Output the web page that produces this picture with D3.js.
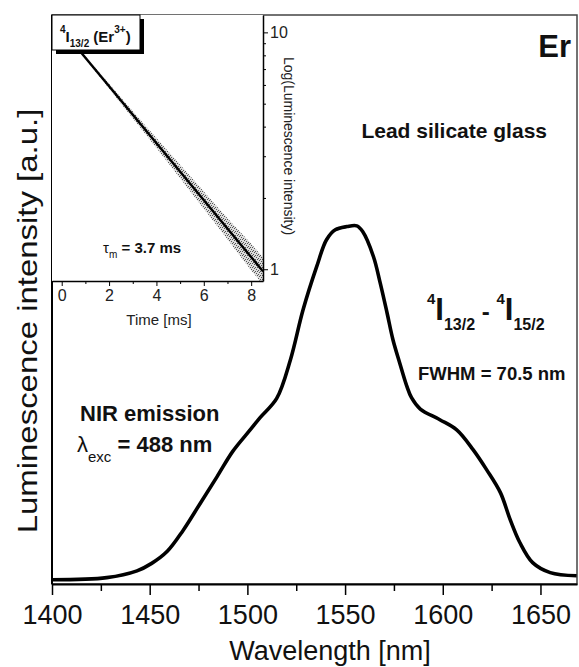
<!DOCTYPE html>
<html>
<head>
<meta charset="utf-8">
<script src="https://cdn.jsdelivr.net/npm/d3@7"></script>
<style>
  body { margin: 0; background: #fff; }
  svg { font-family: "Liberation Sans", Arial, sans-serif; }
</style>
</head>
<body>
<svg class="er_emission" width="579" height="667"></svg>
<script>
// NIR emission spectrum (a.u.)
var wavelength = [1400, 1428, 1443.5, 1451, 1459, 1467, 1476, 1484.5, 1492.5, 1501.5,
                  1506.5, 1515, 1522, 1528.5, 1535.5, 1540.5, 1545, 1551, 1556, 1559,
                  1564.5, 1568, 1571.5, 1574.5, 1578, 1581.5, 1584, 1588.5, 1598.5, 1607,
                  1615.5, 1622.5, 1629.5, 1634.5, 1639.5, 1646, 1655, 1668.5];
var intensity = [0.012, 0.018, 0.037, 0.058, 0.092, 0.150, 0.228, 0.302, 0.373, 0.434,
                 0.468, 0.522, 0.630, 0.771, 0.893, 0.968, 0.996, 1.005, 1.007, 0.991,
                 0.921, 0.846, 0.762, 0.687, 0.621, 0.558, 0.524, 0.492, 0.462, 0.434,
                 0.378, 0.321, 0.257, 0.181, 0.116, 0.060, 0.032, 0.023];
var xTicks = [1400, 1450, 1500, 1550, 1600, 1650];
var xMinorTicks = [1425, 1475, 1525, 1575, 1625];

// inset: decay of 4I13/2
var decayTime = [0, 8.5];
var decayFit = [10.3, 0.98];
var scatterTime = [0.9, 2, 3, 4, 5, 6, 7, 8, 8.5];
var scatterLow = [7.95, 5.80, 4.34, 3.25, 2.42, 1.80, 1.34, 0.99, 0.86];
var scatterHigh = [8.15, 6.07, 4.65, 3.58, 2.76, 2.13, 1.64, 1.28, 1.12];
var insetTimeTicks = [0, 2, 4, 6, 8];
var insetTimeMinor = [1, 3, 5, 7];
var insetLogTicks = [1, 10];
var insetLogMinor = [2, 3, 4, 5, 6, 7, 8, 9];

var svg = d3.select("svg.er_emission"),
    margin = {top: 15, right: 2, bottom: 83, left: 52},
    width = +svg.attr("width") - margin.left - margin.right,
    height = +svg.attr("height") - margin.top - margin.bottom,
    g = svg.append("g").attr("transform", "translate(" + margin.left + "," + margin.top + ")");

var x = d3.scaleLinear().domain([1400, 1668.7]).range([0, width]);
var y = d3.scaleLinear().domain([0, 1.6]).range([height, 0]);

// speckle texture for the noisy decay points
var pat = svg.append("defs").append("pattern")
    .attr("id", "speckle").attr("patternUnits", "userSpaceOnUse")
    .attr("width", 5).attr("height", 4);
pat.append("rect").attr("width", 5).attr("height", 4).attr("fill", "#dcdcdc");
[[0, 0], [2, 1], [4, 2], [1, 3], [3, 0]].forEach(function (p) {
  pat.append("rect").attr("x", p[0]).attr("y", p[1]).attr("width", 1).attr("height", 1).attr("fill", "#555");
});

// frame
g.append("rect")
    .attr("width", width).attr("height", height)
    .attr("fill", "none").attr("stroke", "#444").attr("stroke-width", 1.5);

// spectrum
var line = d3.line()
    .x(function (d, i) { return x(wavelength[i]); })
    .y(function (d) { return y(d); })
    .curve(d3.curveCatmullRom.alpha(0.5));

g.append("path")
    .datum(intensity)
    .attr("fill", "none")
    .attr("stroke", "#000")
    .attr("stroke-width", 3.6)
    .attr("stroke-linejoin", "round")
    .attr("d", line);

// axes
var xAxis = g.append("g")
    .attr("class", "axis axis--x")
    .attr("transform", "translate(0," + height + ")")
    .call(d3.axisBottom(x).tickValues(xTicks).tickSize(11).tickSizeOuter(0)
      .tickPadding(10).tickFormat(d3.format("d")));
xAxis.select(".domain").attr("stroke-width", 2);
xAxis.selectAll(".tick line").attr("stroke-width", 1.5);
xAxis.selectAll("text").attr("font-size", 27).attr("fill", "#111");

g.append("g")
    .attr("transform", "translate(0," + height + ")")
    .call(d3.axisBottom(x).tickValues(xMinorTicks).tickSize(7).tickFormat(""))
    .call(function (a) { a.select(".domain").remove(); a.selectAll("line").attr("stroke-width", 1.5); });

g.append("line")
    .attr("x1", 0).attr("x2", 0).attr("y1", 0).attr("y2", height)
    .attr("stroke", "#000").attr("stroke-width", 2);

g.append("text")
    .attr("text-anchor", "middle")
    .attr("x", 278).attr("y", height + 76)
    .attr("font-size", 27).attr("fill", "#111")
    .text("Wavelength [nm]");

svg.append("text")
    .attr("text-anchor", "middle")
    .attr("transform", "translate(37,321) rotate(-90) scale(1.22,1)")
    .attr("font-size", 27).attr("fill", "#111")
    .text("Luminescence intensity [a.u.]");

// rich text helper: parts = [text, size, baseline offset, weight]
var rich = function (sel, px, py, parts) {
  var t = sel.append("text").attr("x", px).attr("y", py).attr("fill", "#111");
  parts.forEach(function (p) {
    t.append("tspan")
      .attr("y", py + (p[2] || 0))
      .attr("font-size", p[1])
      .attr("font-weight", p[3] || "bold")
      .text(p[0]);
  });
  return t;
};

svg.append("text").attr("x", 571).attr("y", 57).attr("text-anchor", "end")
    .attr("font-size", 31).attr("font-weight", "bold").attr("fill", "#111").text("Er");
svg.append("text").attr("x", 547).attr("y", 138).attr("text-anchor", "end")
    .attr("font-size", 21).attr("font-weight", "bold").attr("fill", "#111").text("Lead silicate glass");
rich(svg, 427, 320, [["4", 15, -16], ["I", 31, 0], ["13/2", 16, 10], [" - ", 24, 0],
                     ["4", 15, -16], ["I", 31, 0], ["15/2", 16, 10]]);
svg.append("text").attr("x", 418).attr("y", 380)
    .attr("font-size", 18.5).attr("font-weight", "bold").attr("fill", "#111").text("FWHM = 70.5 nm");
svg.append("text").attr("x", 80).attr("y", 421)
    .attr("font-size", 22).attr("font-weight", "bold").attr("fill", "#111").text("NIR emission");
rich(svg, 77, 452, [["\u03bb", 22, 0, "normal"], ["exc", 15, 10, "normal"], [" = 488 nm", 22, 0]]);

// inset
var inset = svg.append("g").attr("transform", "translate(52,15)"),
    iw = 211, ih = 266;

var xt = d3.scaleLinear().domain([-0.41, 8.5]).range([0, iw]);
var yl = d3.scaleLog().domain([0.892, 11.84]).range([ih, 0]);

inset.append("rect").attr("width", iw).attr("height", ih).attr("fill", "#fff");
inset.append("clipPath").attr("id", "insetClip")
  .append("rect").attr("width", iw).attr("height", ih);

var plot = inset.append("g").attr("clip-path", "url(#insetClip)");

var band = d3.area()
    .x(function (d, i) { return xt(scatterTime[i]); })
    .y0(function (d, i) { return yl(scatterLow[i]); })
    .y1(function (d, i) { return yl(scatterHigh[i]); })
    .curve(d3.curveMonotoneX);

plot.append("path")
    .datum(scatterTime)
    .attr("fill", "url(#speckle)")
    .attr("d", band);

plot.append("path")
    .datum(decayFit)
    .attr("fill", "none")
    .attr("stroke", "#000")
    .attr("stroke-width", 2.4)
    .attr("d", d3.line()
      .x(function (d, i) { return xt(decayTime[i]); })
      .y(function (d) { return yl(d); }));

var ib = inset.append("g")
    .attr("transform", "translate(0," + ih + ")")
    .call(d3.axisBottom(xt).tickValues(insetTimeTicks).tickSize(5).tickSizeOuter(0).tickPadding(4));
ib.select(".domain").attr("stroke-width", 1.5);
ib.selectAll("text").attr("font-size", 16).attr("fill", "#222");
inset.append("g")
    .attr("transform", "translate(0," + ih + ")")
    .call(d3.axisBottom(xt).tickValues(insetTimeMinor).tickSize(3).tickFormat(""))
    .call(function (a) { a.select(".domain").remove(); });

var ir = inset.append("g")
    .attr("transform", "translate(" + iw + ",0)")
    .call(d3.axisRight(yl).tickValues(insetLogTicks).tickSize(5).tickSizeOuter(0)
      .tickPadding(2).tickFormat(d3.format("d")));
ir.select(".domain").attr("stroke-width", 1.5);
ir.selectAll("text").attr("font-size", 16).attr("fill", "#222");
inset.append("g")
    .attr("transform", "translate(" + iw + ",0)")
    .call(d3.axisRight(yl).tickValues(insetLogMinor).tickSize(3).tickFormat(""))
    .call(function (a) { a.select(".domain").remove(); });

inset.append("text")
    .attr("text-anchor", "middle")
    .attr("x", 107).attr("y", 310)
    .attr("font-size", 15).attr("fill", "#222")
    .text("Time [ms]");

inset.append("text")
    .attr("text-anchor", "middle")
    .attr("transform", "translate(" + (iw + 21) + ",131) rotate(90)")
    .attr("font-size", 14).attr("fill", "#222")
    .text("Log(Luminescence intensity)");

rich(svg, 103, 253, [["\u03c4", 15, 0, "normal"], ["m", 10, 5, "normal"], [" = 3.7 ms", 15, 0]]);

// label box with shadow
svg.append("rect").attr("x", 56).attr("y", 19).attr("width", 88).attr("height", 35).attr("fill", "#000");
svg.append("rect").attr("x", 52).attr("y", 15).attr("width", 88).attr("height", 35)
    .attr("fill", "#fff").attr("stroke", "#000").attr("stroke-width", 1);
rich(svg, 60, 42, [["4", 10, -9], ["I", 15, 0], ["13/2", 10, 5], [" (Er", 15, 0], ["3+", 10, -9], [")", 15, 0]]);
</script>
</body>
</html>
